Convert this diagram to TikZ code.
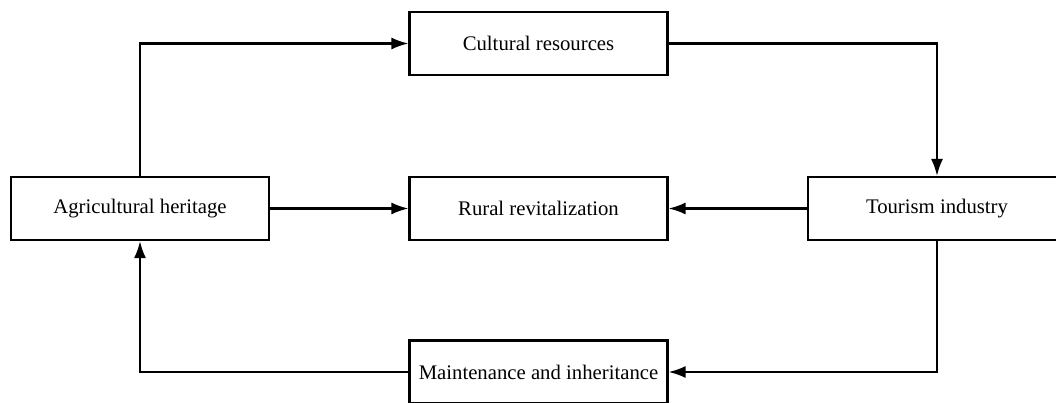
\documentclass[tikz,border=0pt]{standalone}
\usepackage{fontspec}
\setmainfont{Liberation Serif}
\usepackage{tikz}
\usetikzlibrary{arrows.meta}

\begin{document}
\begin{tikzpicture}[
    box/.style={draw, line width=1.2pt, fill=white, minimum width=5.16cm, minimum height=1.26cm, inner sep=0pt, font=\fontsize{11.8}{13}\selectfont},
    arr/.style={line width=1.2pt, -{Latex[length=0.34cm, width=0.24cm]}}
  ]
    % Picture frame, the right and bottom boxes run past it
    \clip (0,0) rectangle (21.12,-8.06);

    % The five boxes
    \node[box] (agri) at (2.80, -4.17) {Agricultural heritage};
    \node[box] (cult) at (10.77, -0.87) {Cultural resources};
    \node[box] (rural) at (10.77, -4.17) {Rural revitalization};
    \node[box] (tour) at (18.74, -4.17) {Tourism industry};
    \node[box] (maint) at (10.77, -7.44) {Maintenance and inheritance};

    % Loop round the outside
    \draw[arr] (agri) |- (cult);
    \draw[arr] (cult) -| (tour);
    \draw[arr] (tour) |- (maint);
    \draw[arr] (maint) -| (agri);

    % Middle row into rural revitalization
    \draw[arr] (agri) -- (rural);
    \draw[arr] (tour) -- (rural);
\end{tikzpicture}
\end{document}
